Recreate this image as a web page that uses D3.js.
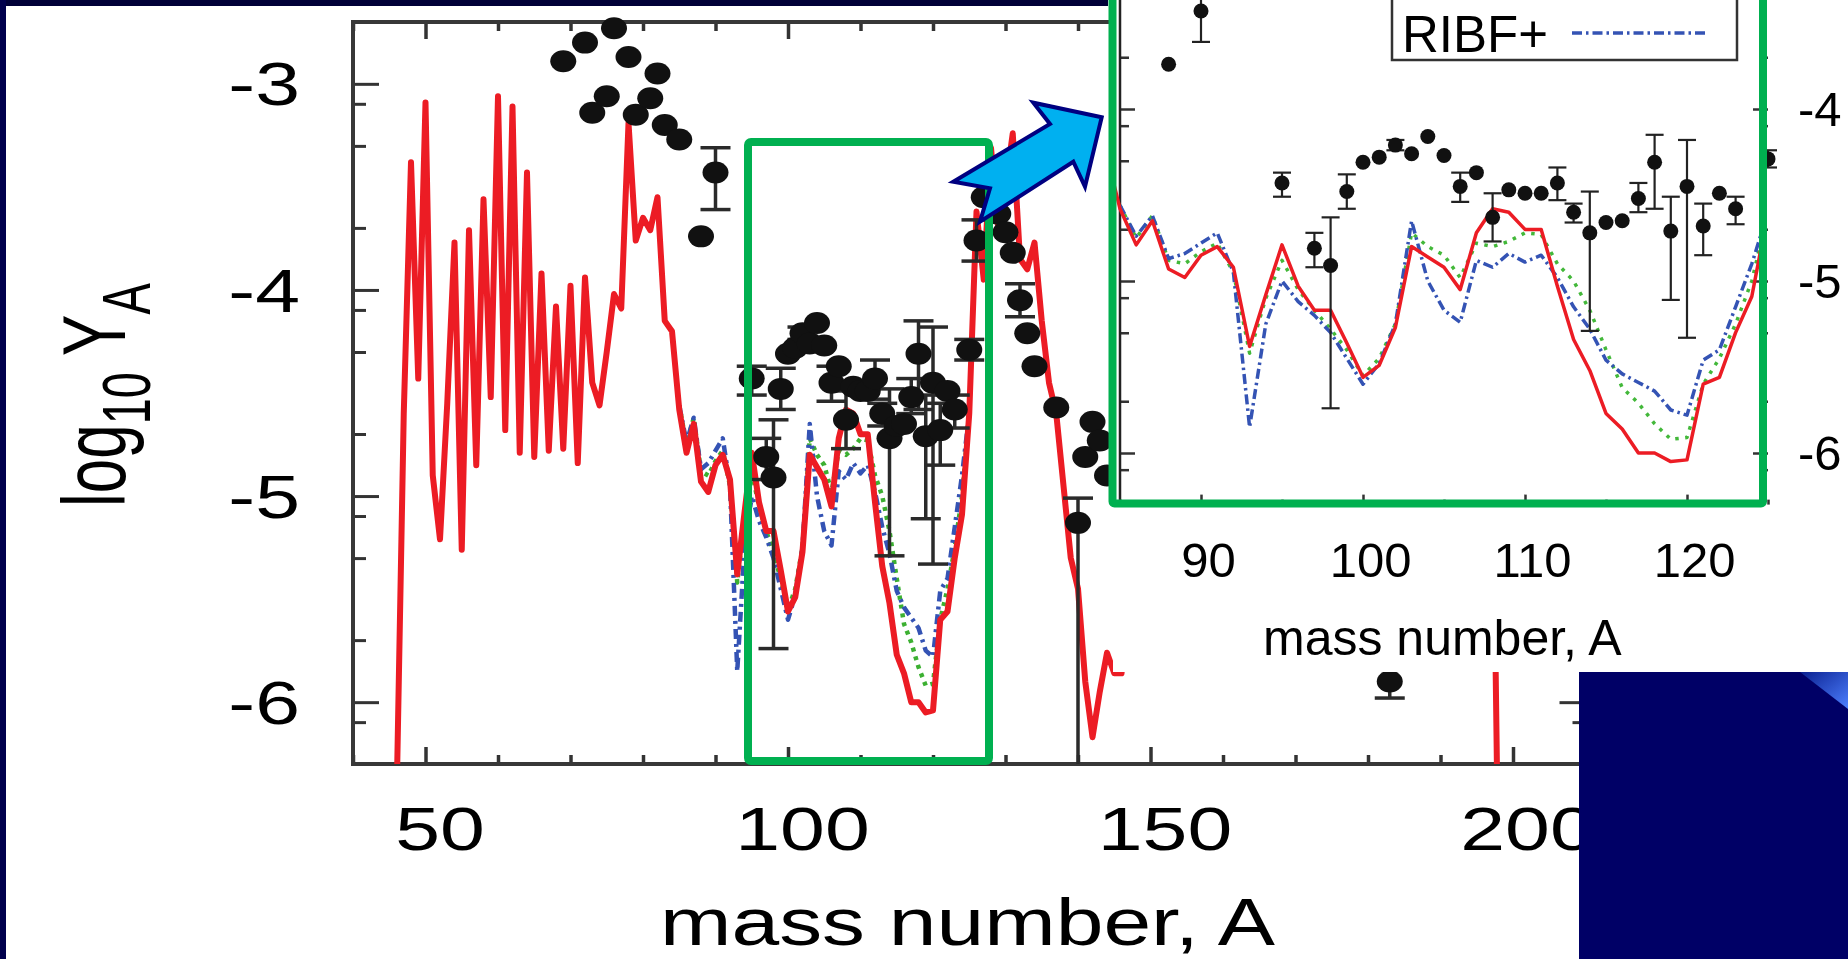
<!DOCTYPE html>
<html>
<head>
<meta charset="utf-8">
<script src="https://d3js.org/d3.v7.min.js"></script>
<style>
body { margin: 0; background: #fff; }
svg { display: block; }
text { font-family: "Liberation Sans", Arial, sans-serif; fill: #000; white-space: pre; }
</style>
</head>
<body>
<svg id="c" width="1848" height="959"></svg>
<script>
// ---- data ----
// red model curve, log10 Y_A against mass number A
var redA = [46,47,48,49,50,51,52,53,54,55,56,57,58,59,60,61,62,63,64,65,66,67,68,69,70,
            71,72,73,74,75,76,77,78,79,80,81,82,83,84,85,86,87,88,89,90,91,92,93,94,95,
            96,97,98,99,100,101,102,103,104,105,106,107,108,109,110,111,112,113,114,115,
            116,117,118,119,120,121,122,123,124,125,126,127,128,129,130,131,132,133,134,135,
            136,137,138,139,140,141,142,143,144,145,146,150,155,160,165,170,175,180,185,190,
            195,197,198];
var redY = [-6.5,-4.6,-3.38,-4.43,-3.09,-4.9,-5.21,-4.55,-3.77,-5.26,-3.71,-4.85,-3.56,-4.52,-3.06,
            -4.68,-3.11,-4.79,-3.43,-4.81,-3.92,-4.78,-4.08,-4.77,-3.98,
            -4.84,-3.94,-4.45,-4.56,-4.30,-4.02,-4.09,-3.19,-3.76,-3.65,-3.71,-3.55,-4.15,-4.20,-4.58,
            -4.79,-4.65,-4.93,-4.98,-4.85,-4.80,-4.92,-5.38,-5.08,-4.79,
            -5.03,-5.17,-5.17,-5.36,-5.56,-5.49,-5.27,-4.80,-4.86,-4.92,-5.05,-4.72,-4.58,-4.60,-4.70,
            -4.70,-5.03,-5.34,-5.52,-5.77,
            -5.86,-6.00,-6.00,-6.05,-6.04,-5.60,-5.56,-5.30,-5.09,-4.60,-3.62,-3.95,-3.31,-3.70,-3.50,
            -3.24,-3.85,-3.90,-3.77,-4.15,
            -4.45,-4.60,-4.95,-5.30,-5.45,-5.90,-6.17,-5.95,-5.76,-5.86,-5.86,-4.6,-4.9,-4.3,-4.5,
            -4.6,-4.6,-4.4,-4.2,-3.8,
            -3.1,-4.2,-6.9];

// the two other model curves (dotted green, dash-dot blue "RIBF+")
var modelA = [85,86,87,88,89,90,91,92,93,94,95,96,97,98,99,100,101,102,103,104,105,
              106,107,108,109,110,111,112,113,114,115,116,117,118,119,120,121,122,123,124,125];
var greenY = [-4.56,-4.75,-4.62,-4.88,-4.90,-4.83,-4.78,-4.95,-5.42,-5.10,-4.88,-5.05,-5.17,-5.28,
              -5.40,-5.55,-5.45,-5.25,-4.72,-4.80,-4.85,
              -4.98,-4.78,-4.80,-4.77,-4.72,-4.73,-4.90,-5.00,-5.17,-5.40,-5.62,-5.71,-5.83,-5.92,
              -5.91,-5.60,-5.45,-5.25,-5.00,-4.60];
var blueY = [-4.56,-4.74,-4.62,-4.87,-4.84,-4.78,-4.72,-4.95,-5.85,-5.25,-5.00,-5.12,-5.20,-5.30,
             -5.45,-5.60,-5.48,-5.25,-4.65,-5.00,-5.17,
             -5.24,-4.88,-4.92,-4.84,-4.89,-4.85,-4.98,-5.15,-5.28,-5.46,-5.54,-5.59,-5.64,-5.75,
             -5.78,-5.46,-5.40,-5.15,-4.90,-4.60];

// observed abundances with error bars (null = no bar)
var ptA  = [69,72,73,75,76,78,79,81,82,83,85,88,
            90,95,97,98,99,
            100,101,102,103,104,105,106,107,108,109,110,111,
            112,113,114,115,116,117,118,119,120,121,122,123,
            125,126,127,129,130,131,132,133,134,137,
            140,141,142,143,144,
            183];
var ptY  = [-2.89,-2.80,-3.14,-3.06,-2.73,-2.87,-3.15,-3.07,-2.95,-3.20,-3.27,-3.74,
            -3.43,-4.43,-4.81,-4.91,-4.48,
            -4.31,-4.28,-4.21,-4.26,-4.16,-4.27,-4.45,-4.37,-4.63,-4.47,-4.49,-4.49,
            -4.43,-4.60,-4.72,-4.66,-4.65,-4.52,-4.31,-4.71,-4.45,-4.68,-4.49,-4.58,
            -4.29,-3.76,-3.55,-3.63,-3.72,-3.82,-4.05,-4.21,-4.37,-4.57,
            -5.13,-4.81,-4.64,-4.73,-4.90,
            -5.90];
var ptLo = [null,null,null,null,null,null,null,null,null,null,null,null,
            -3.61,-4.51,-4.92,-5.74,-4.58,
            null,null,-4.24,null,null,null,-4.54,null,-4.77,null,null,null,
            -4.53,-4.66,-5.29,null,null,-4.60,-4.58,-5.11,-5.33,-4.85,null,-4.67,
            -4.34,-3.86,null,null,null,null,-4.13,null,null,null,
            -6.3,null,null,null,null,
            -5.98];
var ptHi = [null,null,null,null,null,null,null,null,null,null,null,null,
            -3.31,-4.37,-4.72,-4.63,-4.38,
            null,null,-4.18,null,null,null,-4.37,null,-4.49,null,null,null,
            -4.34,-4.55,-4.48,null,null,-4.43,-4.15,-4.51,-4.18,-4.55,null,-4.51,
            -4.24,-3.66,null,null,null,null,-3.97,null,null,null,
            -5.01,null,null,null,null,
            -5.82];

// axis ticks
var mainMajX = [50, 100, 150, 200];
var mainMinX = [40, 60, 70, 80, 90, 110, 120, 130, 140, 160, 170, 180, 190, 210];
var insMajX = [80, 90, 100, 110, 120];
var insMinX = [85, 95, 105, 115, 125];
var majY = [-6, -5, -4, -3];
var minorMult = [2, 5, 8];

var svg = d3.select("#c");
var defs = svg.append("defs");

var x = d3.scaleLinear().domain([40, 210]).range([353, 1585.5]);
var y = d3.scaleLinear().domain([-6.3, -2.7]).range([764, 22]);
var xi = d3.scaleLinear().domain([85, 125]).range([1120, 1768]);
var yi = d3.scaleLinear().domain([-6.3, -3]).range([504.6, -63]);

var minY = [];
[-7, -6, -5, -4, -3].forEach(function(n) {
  minorMult.forEach(function(m) { minY.push(n + Math.log10(m)); });
});

defs.append("clipPath").attr("id", "mainClip").append("rect")
  .attr("x", 353).attr("y", 22).attr("width", 1232.5).attr("height", 742);
defs.append("clipPath").attr("id", "insClip").append("rect")
  .attr("x", 1113).attr("y", 0).attr("width", 651).attr("height", 504);
defs.append("clipPath").attr("id", "insPtClip").append("rect")
  .attr("x", 1113).attr("y", 0).attr("width", 680).attr("height", 504);
var grad = defs.append("linearGradient").attr("id", "corner")
  .attr("x1", 0).attr("y1", 0).attr("x2", 1).attr("y2", 1);
grad.append("stop").attr("offset", 0).attr("stop-color", "#0a2090");
grad.append("stop").attr("offset", 1).attr("stop-color", "#4d80ff");

svg.append("rect").attr("width", 1848).attr("height", 959).attr("fill", "#fff");

var red = redA.map(function(a, i) { return [a, redY[i]]; });
var green = modelA.map(function(a, i) { return [a, greenY[i]]; });
var blue = modelA.map(function(a, i) { return [a, blueY[i]]; });
var pts = ptA.map(function(a, i) { return {a: a, v: ptY[i], lo: ptLo[i], hi: ptHi[i]}; });

function axis(gen, tx, ty, vals, size, fmt, w) {
  var g = svg.append("g").attr("transform", "translate(" + tx + "," + ty + ")")
    .call(gen.tickValues(vals).tickSize(size).tickSizeOuter(0)
      .tickFormat(fmt || function() { return ""; }));
  g.select(".domain").remove();
  g.attr("color", "#333").attr("font-family", null).attr("font-size", null);
  g.selectAll("line").attr("stroke-width", w);
  return g;
}
function fmt(d) { return String(d); }

// ---- main panel ----
var bx = axis(d3.axisBottom(x), 0, 764, mainMajX, -17, fmt, 3.5);
axis(d3.axisBottom(x), 0, 764, mainMinX, -9, null, 3.5);
axis(d3.axisTop(x), 0, 22, mainMajX, -17, null, 3.5);
axis(d3.axisTop(x), 0, 22, mainMinX, -9, null, 3.5);
var ly = axis(d3.axisLeft(y), 353, 0, majY, -26, fmt, 3);
axis(d3.axisLeft(y), 353, 0, minY.filter(function(v) { return v > -6.3 && v < -2.7; }), -13, null, 3);
axis(d3.axisRight(y), 1585.5, 0, majY, -26, null, 3);
axis(d3.axisRight(y), 1585.5, 0, minY.filter(function(v) { return v > -6.3 && v < -2.7; }), -13, null, 3);

bx.selectAll("text").attr("font-size", 62).attr("fill", "#000")
  .attr("transform", "scale(1.3,1)").attr("x", 14 / 1.3).attr("y", 86).attr("dy", null);
ly.selectAll("text").attr("font-size", 62).attr("fill", "#000")
  .attr("transform", "scale(1.3,1)").attr("x", -53 / 1.3).attr("dy", "0.34em");

svg.append("rect").attr("x", 353).attr("y", 22).attr("width", 1232.5).attr("height", 742)
  .attr("fill", "none").attr("stroke", "#383838").attr("stroke-width", 4);

var mLine = d3.line().x(function(d) { return x(d[0]); }).y(function(d) { return y(d[1]); });
var mg = svg.append("g").attr("clip-path", "url(#mainClip)")
  .attr("fill", "none").attr("stroke-linejoin", "round");
mg.append("path").attr("d", mLine(green)).attr("stroke", "#3cb031")
  .attr("stroke-width", 4.5).attr("stroke-dasharray", "4,5");
mg.append("path").attr("d", mLine(blue)).attr("stroke", "#3453b4")
  .attr("stroke-width", 4.5).attr("stroke-dasharray", "10,5,3,5");
mg.append("path").attr("d", mLine(red)).attr("stroke", "#ec1c24").attr("stroke-width", 6);

var eb = svg.append("g").attr("stroke", "#2a2a2a").attr("stroke-width", 3.5);
pts.filter(function(d) { return d.lo !== null; }).forEach(function(d) {
  eb.append("line").attr("x1", x(d.a)).attr("x2", x(d.a)).attr("y1", y(d.lo)).attr("y2", y(d.hi));
  [d.lo, d.hi].forEach(function(v) {
    if (v > -6.3) eb.append("line").attr("x1", x(d.a) - 15).attr("x2", x(d.a) + 15)
      .attr("y1", y(v)).attr("y2", y(v));
  });
});
svg.append("g").selectAll("ellipse").data(pts).join("ellipse")
  .attr("cx", function(d) { return x(d.a); }).attr("cy", function(d) { return y(d.v); })
  .attr("rx", 13).attr("ry", 11).attr("fill", "#111");

svg.append("rect").attr("x", 748).attr("y", 142).attr("width", 241).attr("height", 619)
  .attr("rx", 3).attr("fill", "none").attr("stroke", "#00b050").attr("stroke-width", 8);

var yl = svg.append("text").attr("font-size", 62)
  .attr("transform", "translate(125,507) scale(1.45,1) rotate(-90)");
yl.append("tspan").text("log");
yl.append("tspan").attr("font-size", 47).attr("dy", 17).text("10");
yl.append("tspan").attr("dy", -17).text(" Y");
yl.append("tspan").attr("font-size", 47).attr("dy", 17).text("A");

svg.append("text").attr("font-size", 66).attr("transform", "translate(660,945) scale(1.3,1)")
  .text("mass number, A");

// ---- inset ----
svg.append("rect").attr("x", 1113).attr("y", 0).attr("width", 735).attr("height", 672).attr("fill", "#fff");

var ib = axis(d3.axisBottom(xi), 0, 504.6, insMajX, -10, fmt, 2.5);
axis(d3.axisBottom(xi), 0, 504.6, insMinX, -5, null, 2.5);
axis(d3.axisLeft(yi), 1120, 0, majY, -15, null, 2.5);
axis(d3.axisLeft(yi), 1120, 0, minY.filter(function(v) { return v > -6.3 && v < -3; }), -9, null, 2.5);
var ir = axis(d3.axisRight(yi), 1768, 0, majY.filter(function(v) { return v < -3.5; }), -15, fmt, 2.5)
  .call(function(g) { g.selectAll("text").attr("x", 30); });
axis(d3.axisRight(yi), 1768, 0, minY.filter(function(v) { return v > -6.3 && v < -3; }), -9, null, 2.5);
ib.selectAll("text").attr("font-size", 49).attr("fill", "#000").attr("x", 7).attr("y", 72.4).attr("dy", null);
ir.selectAll("text").attr("font-size", 49).attr("fill", "#000").attr("dy", "0.34em");
// clip inset tick labels that fall left of the inset panel
ib.selectAll(".tick").filter(function(d) { return xi(d) < 1113; }).remove();

svg.append("line").attr("x1", 1120).attr("x2", 1120).attr("y1", 0).attr("y2", 504.6)
  .attr("stroke", "#222").attr("stroke-width", 2.5);

var iLine = d3.line().x(function(d) { return xi(d[0]); }).y(function(d) { return yi(d[1]); });
var ig = svg.append("g").attr("clip-path", "url(#insClip)")
  .attr("fill", "none").attr("stroke-linejoin", "round");
ig.append("path").attr("d", iLine(green)).attr("stroke", "#43b83a")
  .attr("stroke-width", 3.5).attr("stroke-dasharray", "3.5,6.5");
ig.append("path").attr("d", iLine(blue)).attr("stroke", "#3453b4")
  .attr("stroke-width", 3.5).attr("stroke-dasharray", "10,4,2.5,4");
ig.append("path").attr("d", iLine(red)).attr("stroke", "#ec1c24").attr("stroke-width", 3.5);

var ip = svg.append("g").attr("clip-path", "url(#insPtClip)");
var inPts = pts.filter(function(d) { return d.a >= 84 && d.a <= 125; });
inPts.filter(function(d) { return d.lo !== null; }).forEach(function(d) {
  ip.append("line").attr("x1", xi(d.a)).attr("x2", xi(d.a)).attr("y1", yi(d.lo)).attr("y2", yi(d.hi))
    .attr("stroke", "#222").attr("stroke-width", 2.2);
  [d.lo, d.hi].forEach(function(v) {
    ip.append("line").attr("x1", xi(d.a) - 9).attr("x2", xi(d.a) + 9).attr("y1", yi(v)).attr("y2", yi(v))
      .attr("stroke", "#222").attr("stroke-width", 2.2);
  });
});
ip.selectAll("circle").data(inPts).join("circle")
  .attr("cx", function(d) { return xi(d.a); }).attr("cy", function(d) { return yi(d.v); })
  .attr("r", 7.5).attr("fill", "#111");

// legend (lower row visible)
svg.append("rect").attr("x", 1392).attr("y", -12).attr("width", 345).attr("height", 72)
  .attr("fill", "#fff").attr("stroke", "#333").attr("stroke-width", 2.5);
svg.append("text").attr("x", 1402).attr("y", 52).attr("font-size", 51).text("RIBF+");
svg.append("line").attr("x1", 1572).attr("x2", 1708).attr("y1", 33).attr("y2", 33)
  .attr("stroke", "#3453b4").attr("stroke-width", 3.5).attr("stroke-dasharray", "10,4,2.5,4");

svg.append("text").attr("x", 1263).attr("y", 655).attr("font-size", 50).text("mass number, A");

svg.append("rect").attr("x", 1112.5).attr("y", -20).attr("width", 650.5).attr("height", 523.5)
  .attr("rx", 2).attr("fill", "none").attr("stroke", "#00b050").attr("stroke-width", 8);

// call-out arrow
svg.append("polygon")
  .attr("points", "1101.7,117.3 1033.3,102.7 1050,124 953.3,181.7 990,188.3 980,221.7 1073.3,161.7 1085,186.7")
  .attr("fill", "#00b0f0").attr("stroke", "#000080").attr("stroke-width", 4).attr("stroke-linejoin", "miter");

// slide frame pieces
svg.append("rect").attr("x", 1579).attr("y", 672).attr("width", 269).attr("height", 287).attr("fill", "#000066");
svg.append("polygon").attr("points", "1800,672 1848,672 1848,709").attr("fill", "url(#corner)");
svg.append("rect").attr("x", 0).attr("y", 0).attr("width", 1108).attr("height", 6).attr("fill", "#000038");
svg.append("rect").attr("x", 0).attr("y", 0).attr("width", 6).attr("height", 959).attr("fill", "#00004d");
</script>
</body>
</html>
